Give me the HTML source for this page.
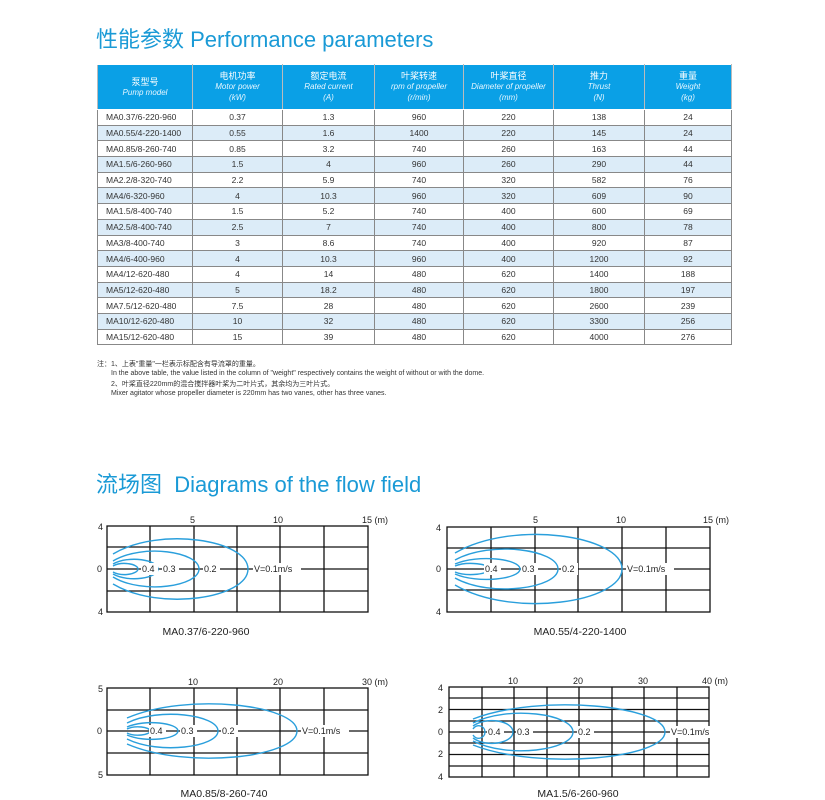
<!DOCTYPE html>
<html><head><meta charset="utf-8"><style>
body{margin:0;width:825px;height:800px;background:#fff;position:relative;overflow:hidden;font-family:"Liberation Sans","Noto Sans CJK SC",sans-serif}
.t{position:absolute;color:#1a9ad6;font-size:22px;white-space:nowrap}
table{position:absolute;left:97px;top:64px;border-collapse:collapse;font-size:8.5px;color:#333}
td,th{border:1px solid #888;padding:0;text-align:center;height:14.7px}
th{background:#0aa0e6;color:#fff;font-weight:normal;height:44px;line-height:10px;border-color:#fff #bbb;font-size:9px}
th i{font-size:8px;color:#e6f6ff}
td:first-child{text-align:left;padding-left:8px}
tr.b td{background:#dcecf8}
.n{position:absolute;left:97px;font-size:7px;color:#333;white-space:nowrap}
</style></head><body>
<div class="t" style="left:96px;top:22px">性能参数 Performance parameters</div>
<table>
<colgroup><col style="width:95px"><col style="width:90px"><col style="width:92px"><col style="width:89px"><col style="width:90px"><col style="width:91px"><col style="width:87px"></colgroup>
<tr><th>泵型号<br><i>Pump model</i></th><th>电机功率<br><i>Motor power</i><br><i>(kW)</i></th><th>额定电流<br><i>Rated current</i><br><i>(A)</i></th><th>叶桨转速<br><i>rpm of propeller</i><br><i>(r/min)</i></th><th>叶桨直径<br><i>Diameter of propeller</i><br><i>(mm)</i></th><th>推力<br><i>Thrust</i><br><i>(N)</i></th><th>重量<br><i>Weight</i><br><i>(kg)</i></th></tr>
<tr><td>MA0.37/6-220-960</td><td>0.37</td><td>1.3</td><td>960</td><td>220</td><td>138</td><td>24</td></tr>
<tr class="b"><td>MA0.55/4-220-1400</td><td>0.55</td><td>1.6</td><td>1400</td><td>220</td><td>145</td><td>24</td></tr>
<tr><td>MA0.85/8-260-740</td><td>0.85</td><td>3.2</td><td>740</td><td>260</td><td>163</td><td>44</td></tr>
<tr class="b"><td>MA1.5/6-260-960</td><td>1.5</td><td>4</td><td>960</td><td>260</td><td>290</td><td>44</td></tr>
<tr><td>MA2.2/8-320-740</td><td>2.2</td><td>5.9</td><td>740</td><td>320</td><td>582</td><td>76</td></tr>
<tr class="b"><td>MA4/6-320-960</td><td>4</td><td>10.3</td><td>960</td><td>320</td><td>609</td><td>90</td></tr>
<tr><td>MA1.5/8-400-740</td><td>1.5</td><td>5.2</td><td>740</td><td>400</td><td>600</td><td>69</td></tr>
<tr class="b"><td>MA2.5/8-400-740</td><td>2.5</td><td>7</td><td>740</td><td>400</td><td>800</td><td>78</td></tr>
<tr><td>MA3/8-400-740</td><td>3</td><td>8.6</td><td>740</td><td>400</td><td>920</td><td>87</td></tr>
<tr class="b"><td>MA4/6-400-960</td><td>4</td><td>10.3</td><td>960</td><td>400</td><td>1200</td><td>92</td></tr>
<tr><td>MA4/12-620-480</td><td>4</td><td>14</td><td>480</td><td>620</td><td>1400</td><td>188</td></tr>
<tr class="b"><td>MA5/12-620-480</td><td>5</td><td>18.2</td><td>480</td><td>620</td><td>1800</td><td>197</td></tr>
<tr><td>MA7.5/12-620-480</td><td>7.5</td><td>28</td><td>480</td><td>620</td><td>2600</td><td>239</td></tr>
<tr class="b"><td>MA10/12-620-480</td><td>10</td><td>32</td><td>480</td><td>620</td><td>3300</td><td>256</td></tr>
<tr><td>MA15/12-620-480</td><td>15</td><td>39</td><td>480</td><td>620</td><td>4000</td><td>276</td></tr>
</table>
<div class="n" style="top:359px">注：1、上表"重量"一栏表示标配含有导流罩的重量。</div>
<div class="n" style="top:370px;left:111px">In the above table, the value listed in the column of "weight" respectively contains the weight of without or with the dome.</div>
<div class="n" style="top:379px;left:111px">2、叶桨直径220mm的混合搅拌器叶桨为二叶片式，其余均为三叶片式。</div>
<div class="n" style="top:390px;left:111px">Mixer agitator whose propeller diameter is 220mm has two vanes, other has three vanes.</div>
<div class="t" style="left:96px;top:467px">流场图 &nbsp;Diagrams of the flow field</div>
<svg width="825" height="800" style="position:absolute;left:0;top:0" font-family="Liberation Sans, sans-serif" font-size="9" fill="#222">
<g stroke="#111" stroke-width="1.3" fill="none">
<rect x="107" y="526" width="261" height="86"/>
<path d="M150,526V612M194,526V612M237,526V612M280,526V612M324,526V612M107,547H368M107,569H368M107,591H368"/>
<rect x="447" y="527" width="263" height="85"/>
<path d="M491,527V612M535,527V612M578,527V612M622,527V612M666,527V612M447,548H710M447,569H710M447,590H710"/>
<rect x="107" y="688" width="261" height="87"/>
<path d="M150,688V775M194,688V775M237,688V775M280,688V775M324,688V775M107,710H368M107,731H368M107,753H368"/>
<rect x="449" y="687" width="260" height="90"/>
<path d="M482,687V777M514,687V777M547,687V777M579,687V777M612,687V777M644,687V777M677,687V777M449,698H709M449,709.5H709M449,721H709M449,732H709M449,743H709M449,754.5H709M449,766H709"/>
</g>
<g stroke="#2a9fdc" stroke-width="1.4" fill="none">
<path d="M113,554C160,526 248,540 248,569C248,598 160,612 113,584"/>
<path d="M113,561C143,543 199,552 199,569C199,586 143,595 113,577"/>
<path d="M113,564C129,555 158,560 158,569C158,578 129,583 113,574"/>
<path d="M113,566C122,561 138,564 138,569C138,574 122,577 113,572"/>
<path d="M455,553C513,519 622,536 622,569C622,602 513,619 455,585"/>
<path d="M455,560C491,540 558,550 558,569C558,588 491,598 455,578"/>
<path d="M455,564C478,554 520,559 520,569C520,579 478,584 455,574"/>
<path d="M455,566C467,561 490,564 490,569C490,574 467,577 455,572"/>
<path d="M127,718C187,692 297,705 297,731C297,757 187,770 127,744"/>
<path d="M127,723C159,707 218,715 218,731C218,747 159,755 127,739"/>
<path d="M127,727C145,719 178,723 178,731C178,739 145,743 127,735"/>
<path d="M127,729C135,725 150,727 150,731C150,735 135,737 127,733"/>
<path d="M473,719C540,693 665,706 665,732C665,758 540,771 473,745"/>
<path d="M473,723C508,705 573,714 573,732C573,750 508,759 473,741"/>
<path d="M473,726C487,716 513,721 513,732C513,743 487,748 473,738"/>
<path d="M473,729C477,723 485,726 485,732C485,738 477,741 473,735"/>
</g>
<g fill="#fff">
<rect x="141" y="563" width="17" height="12"/><rect x="162" y="563" width="17" height="12"/><rect x="203" y="563" width="17" height="12"/><rect x="253" y="563" width="48" height="12"/>
<rect x="484" y="563" width="17" height="12"/><rect x="521" y="563" width="17" height="12"/><rect x="561" y="563" width="17" height="12"/><rect x="626" y="563" width="48" height="12"/>
<rect x="149" y="725" width="17" height="12"/><rect x="180" y="725" width="17" height="12"/><rect x="221" y="725" width="17" height="12"/><rect x="301" y="725" width="48" height="12"/>
<rect x="487" y="726" width="17" height="12"/><rect x="516" y="726" width="17" height="12"/><rect x="577" y="726" width="17" height="12"/><rect x="670" y="726" width="50" height="12"/>
</g>
<text x="142" y="572">0.4</text><text x="163" y="572">0.3</text><text x="204" y="572">0.2</text><text x="254" y="572">V=0.1m/s</text>
<text x="485" y="572">0.4</text><text x="522" y="572">0.3</text><text x="562" y="572">0.2</text><text x="627" y="572">V=0.1m/s</text>
<text x="150" y="734">0.4</text><text x="181" y="734">0.3</text><text x="222" y="734">0.2</text><text x="302" y="734">V=0.1m/s</text>
<text x="488" y="735">0.4</text><text x="517" y="735">0.3</text><text x="578" y="735">0.2</text><text x="671" y="735">V=0.1m/s</text>
<g font-size="9">
<text x="98" y="530">4</text><text x="97" y="572">0</text><text x="98" y="615">4</text>
<text x="190" y="523">5</text><text x="273" y="523">10</text><text x="362" y="523">15 (m)</text>
<text x="436" y="531">4</text><text x="436" y="572">0</text><text x="436" y="615">4</text>
<text x="533" y="523">5</text><text x="616" y="523">10</text><text x="703" y="523">15 (m)</text>
<text x="98" y="692">5</text><text x="97" y="734">0</text><text x="98" y="778">5</text>
<text x="188" y="685">10</text><text x="273" y="685">20</text><text x="362" y="685">30 (m)</text>
<text x="438" y="691">4</text><text x="438" y="713">2</text><text x="438" y="735">0</text><text x="438" y="757">2</text><text x="438" y="780">4</text>
<text x="508" y="684">10</text><text x="573" y="684">20</text><text x="638" y="684">30</text><text x="702" y="684">40 (m)</text>
</g>
<g font-size="10.5" text-anchor="middle">
<text x="206" y="635">MA0.37/6-220-960</text><text x="580" y="635">MA0.55/4-220-1400</text>
<text x="224" y="797">MA0.85/8-260-740</text><text x="578" y="797">MA1.5/6-260-960</text>
</g>
</svg>
</body></html>
